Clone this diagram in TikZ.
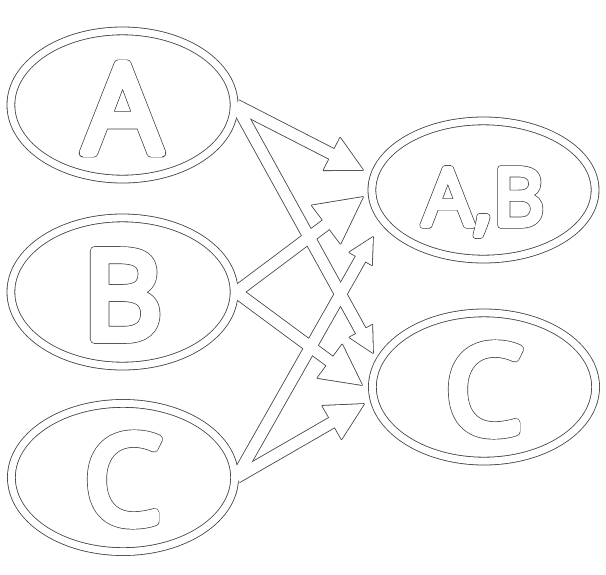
\documentclass[tikz,border=0pt]{standalone}
\usepackage{fontspec}
\setsansfont{Open Sans}
\usetikzlibrary{calc,positioning,shapes.geometric}
% one pass of a stroked and filled text
\newcommand{\strokepass}[2]{%
  \special{pdf:literal direct 2 Tr #1 w 1 j 1 J}#2%
  \special{pdf:literal direct 0 Tr 0.4 w 0 j 0 J}}
% white letters with a thin dark rim
\newcommand{\hollow}[3]{%
  \rlap{\color{black!75}\strokepass{#2}{#3}}\strokepass{#1}{#3}}
\tikzset{
    setnode/.style={ellipse,inner sep=0pt,outer sep=0pt,minimum width=223.2pt,minimum height=148.2pt},
    bigtext/.style={text=white,font=\sffamily\fontsize{124}{124}\selectfont},
    smalltext/.style={text=white,font=\sffamily\fontsize{80}{80}\selectfont},
    ringdark/.style={draw=black!75,line width=8.6pt},
    ringlight/.style={draw=white,line width=7pt},
    shaftdark/.style={draw=black!75,line width=12.6pt},
    shaftlight/.style={draw=white,line width=11pt},
    headdark/.style={fill=black!75,draw=black!75,line width=1.6pt,line join=round},
    headlight/.style={fill=white}
}
\def\arrowlist{A.east/tAB1/35, B.east/tAB2/46, C.east/tAB3/25, A.east/tC1/25, B.east/tC2/40, C.east/tC3/37}

\begin{document}
\begin{tikzpicture}[x=1pt,y=-1pt]
  \useasboundingbox (0,0) rectangle (606,574);
  \fill[white] (0,0) rectangle (606,574);

  \node[setnode] (A)  at (122.5,105)   {};
  \node[setnode] (B)  at (122.5,292)   {};
  \node[setnode] (C)  at (123,477.5)   {};
  \node[setnode,minimum height=138.2pt] (AB) at (483.5,190) {};
  \node[setnode] (CC) at (484,387)     {};

  \coordinate (tAB1) at (363,170);
  \coordinate (tAB2) at (363,197);
  \coordinate (tAB3) at (373,237);
  \coordinate (tC1)  at (373,353);
  \coordinate (tC2)  at (362,385);
  \coordinate (tC3)  at (364,404);

  % dark pass
  \foreach \n/\ry in {A/74.1pt,B/74.1pt,C/74.1pt,AB/69.1pt,CC/74.1pt}
    \draw[ringdark] (\n.center) ellipse [x radius=111.6pt, y radius=\ry];
  \foreach \src/\dst/\hl in \arrowlist{
    \pgfmathsetmacro\hw{0.52*\hl}
    \coordinate (s) at ([xshift=2pt]\src);
    \coordinate (m) at ($(\dst)!{\hl*1pt}!(s)$);
    \coordinate (l) at ($(m)!{\hw*1pt}!90:(\dst)$);
    \coordinate (r) at ($(m)!{\hw*1pt}!-90:(\dst)$);
    \draw[shaftdark] (s) -- ($(m)!2pt!(\dst)$);
    \filldraw[headdark] (\dst) -- (l) -- (r) -- cycle;
  }

  % light pass
  \foreach \n/\ry in {A/74.1pt,B/74.1pt,C/74.1pt,AB/69.1pt,CC/74.1pt}
    \draw[ringlight] (\n.center) ellipse [x radius=111.6pt, y radius=\ry];
  \foreach \src/\dst/\hl in \arrowlist{
    \pgfmathsetmacro\hw{0.52*\hl}
    \coordinate (s) at ([xshift=2pt]\src);
    \coordinate (m) at ($(\dst)!{\hl*1pt}!(s)$);
    \coordinate (l) at ($(m)!{\hw*1pt}!90:(\dst)$);
    \coordinate (r) at ($(m)!{\hw*1pt}!-90:(\dst)$);
    \draw[shaftlight] (s) -- ($(m)!2pt!(\dst)$);
    \fill[headlight] (\dst) -- (l) -- (r) -- cycle;
  }

  % labels
  \node[bigtext]   (lA)  at ([yshift=-3.5pt]A.center)  {\hollow{7.6}{9}{A}};
  \node[bigtext]   (lB)  at ([yshift=-3pt]B.center)    {\hollow{7.6}{9}{B}};
  \node[bigtext]   (lC)  at ([yshift=-2pt]C.center)    {\hollow{7.6}{9}{C}};
  \node[smalltext] (lAB) at ([yshift=-12pt]AB.center)  {\hollow{4.8}{6.2}{A,B}};
  \node[bigtext]   (lCC) at ([yshift=-2.5pt]CC.center) {\hollow{7.6}{9}{C}};
\end{tikzpicture}
\end{document}
